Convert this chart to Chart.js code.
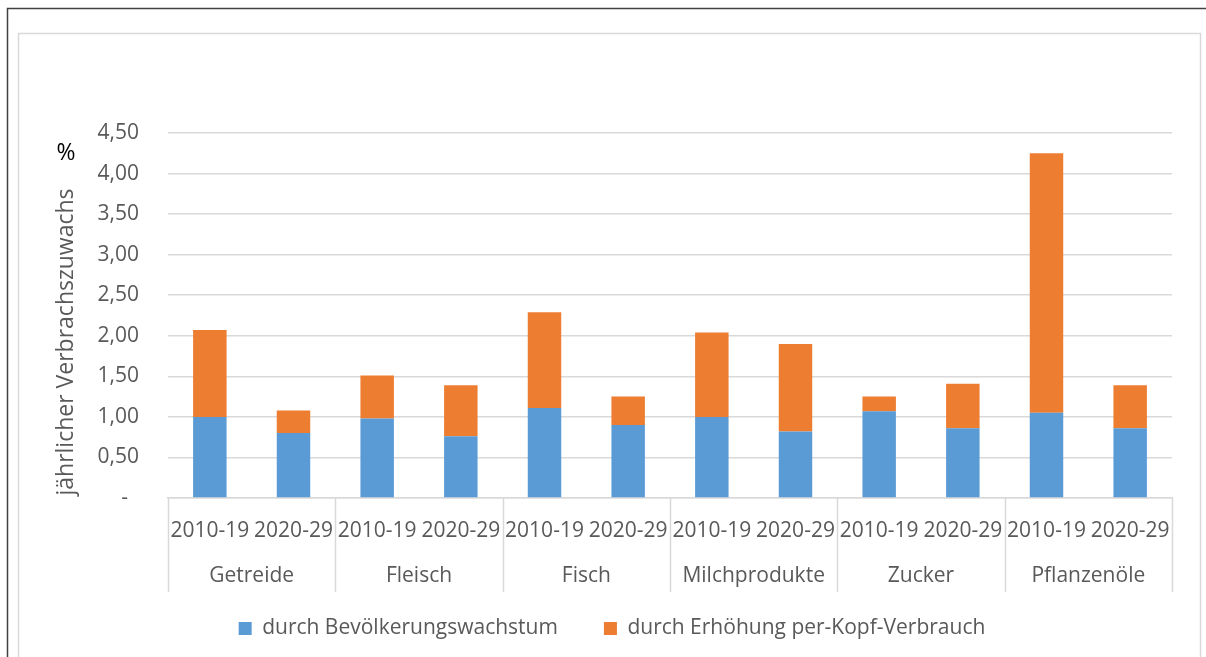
<!DOCTYPE html>
<html lang="de">
<head>
<meta charset="utf-8">
<title>Jährlicher Verbrauchszuwachs</title>
<script src="https://cdn.jsdelivr.net/npm/chart.js@4/dist/chart.umd.min.js"></script>
<style>
  html, body { margin: 0; padding: 0; background: #fff; }
  #wrap { width: 1206px; height: 657px; position: relative; }
</style>
</head>
<body>
<div id="wrap"><canvas id="chart" width="1206" height="657"></canvas></div>
<script>
// ---- Data ----
const groups  = ['Getreide', 'Fleisch', 'Fisch', 'Milchprodukte', 'Zucker', 'Pflanzenöle'];
const periods = ['2010-19', '2020-29'];
const labels  = ['2010-19','2020-29','2010-19','2020-29','2010-19','2020-29','2010-19','2020-29','2010-19','2020-29','2010-19','2020-29'];

const population = [1.00, 0.80, 0.98, 0.76, 1.11, 0.90, 1.00, 0.82, 1.07, 0.86, 1.05, 0.86];
const perCapita  = [1.07, 0.28, 0.53, 0.63, 1.18, 0.35, 1.04, 1.08, 0.18, 0.55, 3.20, 0.53];

const yTicks      = [0, 0.5, 1, 1.5, 2, 2.5, 3, 3.5, 4, 4.5];
const yTickLabels = ['-  ', '0,50', '1,00', '1,50', '2,00', '2,50', '3,00', '3,50', '4,00', '4,50'];

const FONT = 'Open Sans';
const GREY = '#595959';
const LINE = '#d9d9d9';

// ---- Frame, axis title, group labels ----
const decorations = {
  id: 'decorations',
  beforeDraw(chart) {
    const c = chart.ctx;
    c.save();
    c.fillStyle = '#fff';
    c.fillRect(0, 0, chart.width, chart.height);
    // outer dark frame
    c.strokeStyle = '#404040';
    c.lineWidth = 1.5;
    c.beginPath();
    c.moveTo(7.5, chart.height + 2);
    c.lineTo(7.5, 8.5);
    c.lineTo(chart.width + 2, 8.5);
    c.stroke();
    // inner light frame
    c.strokeStyle = LINE;
    c.lineWidth = 1.5;
    c.strokeRect(18.5, 33.5, 1182, chart.height + 10);
    c.restore();
  },
  afterDraw(chart) {
    const c = chart.ctx;
    const x = chart.scales.x;
    const area = chart.chartArea;
    const half = (x.getPixelForValue(1) - x.getPixelForValue(0)) / 2;
    c.save();

    // separators between groups
    c.strokeStyle = LINE;
    c.lineWidth = 1.5;
    for (let g = 0; g <= groups.length; g++) {
      const idx = g * periods.length;
      const px = idx < labels.length ? x.getPixelForValue(idx) - half : x.getPixelForValue(labels.length - 1) + half;
      c.beginPath();
      c.moveTo(Math.round(px) + 0.5, area.bottom);
      c.lineTo(Math.round(px) + 0.5, area.bottom + 94);
      c.stroke();
    }

    // group labels
    c.fillStyle = GREY;
    c.font = '21px "' + FONT + '"';
    c.textAlign = 'center';
    c.textBaseline = 'middle';
    groups.forEach((name, g) => {
      const a = x.getPixelForValue(g * periods.length);
      const b = x.getPixelForValue(g * periods.length + periods.length - 1);
      c.fillText(name, (a + b) / 2, area.bottom + 78);
    });

    // y axis title + unit
    c.font = '23px "' + FONT + '"';
    c.save();
    c.translate(66, 342);
    c.rotate(-Math.PI / 2);
    c.fillText('jährlicher Verbrachszuwachs', 0, 0);
    c.restore();
    c.fillStyle = '#000';
    c.fillText('%', 66, 153);

    c.restore();
  }
};

new Chart(document.getElementById('chart'), {
  type: 'bar',
  data: {
    labels: labels,
    datasets: [
      { label: 'durch Bevölkerungswachstum',       data: population, backgroundColor: '#5B9BD5', categoryPercentage: 1, barPercentage: 0.4 },
      { label: 'durch Erhöhung per-Kopf-Verbrauch', data: perCapita,  backgroundColor: '#ED7D31', categoryPercentage: 1, barPercentage: 0.4 }
    ]
  },
  options: {
    responsive: false,
    animation: false,
    layout: { padding: { left: 18, right: 0, top: 133, bottom: 8 } },
    plugins: {
      legend: {
        position: 'bottom',
        labels: { font: { family: FONT, size: 21 }, color: GREY, boxWidth: 13, boxHeight: 13, padding: 46 }
      },
      tooltip: { enabled: false }
    },
    scales: {
      x: {
        stacked: true,
        grid: { display: false },
        border: { color: LINE, width: 1.5 },
        ticks: { font: { family: FONT, size: 21 }, color: GREY, padding: 12, autoSkip: false, maxRotation: 0 },
        afterFit: s => { s.height = 74; }
      },
      y: {
        stacked: true,
        min: 0, max: 4.5,
        grid: { color: LINE, lineWidth: 1.5, drawTicks: false },
        border: { display: false },
        afterBuildTicks: s => { s.ticks = yTicks.map(v => ({ value: v })); },
        ticks: {
          font: { family: FONT, size: 21 }, color: GREY, padding: 29,
          callback: (v) => yTickLabels[yTicks.indexOf(v)]
        },
        afterFit: s => { s.width = 150; }
      },
      y2: {
        position: 'right',
        display: true,
        grid: { display: false },
        border: { display: false },
        ticks: { display: false },
        afterFit: s => { s.width = 34; }
      }
    }
  },
  plugins: [decorations]
});
</script>
</body>
</html>
